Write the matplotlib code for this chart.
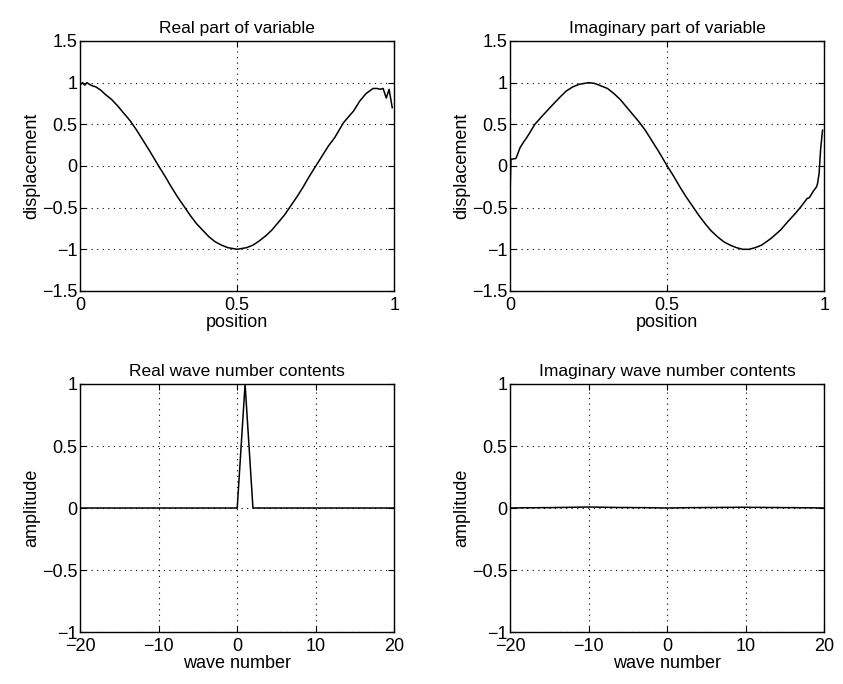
import matplotlib
matplotlib.use("Agg")
import matplotlib.pyplot as plt
import numpy as np

plt.rcParams['font.family'] = ['Liberation Sans', 'DejaVu Sans']
plt.rcParams['font.size'] = 13

# real part of variable
pos_re = [0.0, 0.008, 0.015, 0.022, 0.03, 0.04, 0.05, 0.066, 0.08, 0.10, 0.12, 0.14,
          0.16, 0.18, 0.20, 0.22, 0.25, 0.27, 0.29, 0.31, 0.33, 0.35, 0.37, 0.39,
          0.41, 0.43, 0.45, 0.47, 0.50, 0.53, 0.55, 0.57, 0.59, 0.61, 0.63, 0.65,
          0.67, 0.69, 0.71, 0.73, 0.75, 0.77, 0.79, 0.81, 0.838, 0.87, 0.89, 0.91,
          0.932, 0.945, 0.955, 0.964, 0.974, 0.983, 0.993]
real_part = [0.97, 1.0, 0.97, 1.0, 0.98, 0.96, 0.95, 0.91, 0.86, 0.80, 0.72, 0.63,
             0.54, 0.43, 0.31, 0.19, 0.0, -0.12, -0.25, -0.37, -0.48, -0.59, -0.69, -0.77,
             -0.85, -0.91, -0.95, -0.98, -1.0, -0.98, -0.95, -0.90, -0.84, -0.77, -0.68, -0.59,
             -0.48, -0.37, -0.25, -0.12, 0.0, 0.12, 0.24, 0.34, 0.52, 0.66, 0.78, 0.87,
             0.93, 0.93, 0.92, 0.93, 0.815, 0.92, 0.70]

# imaginary part of variable
pos_im = [0.0, 0.003, 0.019, 0.025, 0.032, 0.042, 0.053, 0.063, 0.079, 0.105, 0.137,
          0.16, 0.179, 0.20, 0.22, 0.25, 0.27, 0.29, 0.31, 0.33, 0.35, 0.37, 0.39,
          0.41, 0.43, 0.45, 0.47, 0.50, 0.52, 0.54, 0.56, 0.58, 0.60, 0.62, 0.64,
          0.66, 0.68, 0.70, 0.72, 0.74, 0.76, 0.78, 0.80, 0.83, 0.86, 0.883, 0.905,
          0.925, 0.945, 0.952, 0.965, 0.975, 0.978, 0.983, 0.988, 0.994]
imag_part = [-0.35, 0.08, 0.09, 0.15, 0.22, 0.28, 0.34, 0.40, 0.50, 0.61, 0.74,
             0.83, 0.90, 0.95, 0.98, 1.0, 0.99, 0.96, 0.93, 0.87, 0.80, 0.71, 0.62,
             0.53, 0.43, 0.31, 0.19, 0.0, -0.12, -0.25, -0.37, -0.48, -0.59, -0.69, -0.78,
             -0.85, -0.91, -0.95, -0.98, -1.0, -1.0, -0.98, -0.95, -0.87, -0.77, -0.67, -0.58,
             -0.49, -0.39, -0.38, -0.30, -0.25, -0.21, -0.09, 0.21, 0.43]

# wave number contents
wave_num = list(range(-20, 21))
real_amp = [0.0] * 20 + [0.0, 1.0] + [0.0] * 19
imag_amp = [0.0, 0.001, 0.002, 0.002, 0.003, 0.003, 0.004, 0.005, 0.006, 0.007,
            0.008, 0.007, 0.006, 0.005, 0.004, 0.004, 0.003, 0.003, 0.002, 0.001,
            0.0, 0.001, 0.002, 0.003, 0.003, 0.004, 0.004, 0.005, 0.005, 0.006,
            0.006, 0.005, 0.005, 0.004, 0.004, 0.003, 0.003, 0.002, 0.002, 0.001, 0.0]

fig = plt.figure(figsize=(8.43, 6.84), dpi=100)
W = 0.373
ax1 = fig.add_axes([0.0949, 0.5746, W, 0.3655])
ax2 = fig.add_axes([0.605, 0.5746, W, 0.3655])
ax3 = fig.add_axes([0.0949, 0.076, W, 0.3626])
ax4 = fig.add_axes([0.605, 0.076, W, 0.3626])


def style(ax, xt, yt, xlab, ylab, title):
    ax.set_xticks(xt)
    ax.set_yticks(yt)
    ax.set_xlim(xt[0], xt[-1])
    ax.set_ylim(yt[0], yt[-1])
    ax.set_xticklabels([f"{v:g}".replace('-', '\u2212') for v in xt])
    ax.set_yticklabels([f"{v:g}".replace('-', '\u2212') for v in yt])
    ax.grid(True, linestyle=(0, (1, 4)), color='black', linewidth=0.8)
    ax.tick_params(direction='in', top=True, right=True, length=4, width=0.8,
                   labelsize=13, pad=2)
    ax.tick_params(axis='x', pad=4)
    for s in ax.spines.values():
        s.set_linewidth(1.0)
    ax.set_xlabel(xlab, fontsize=13, labelpad=0)
    ax.set_ylabel(ylab, fontsize=13, labelpad=1)
    ax.set_title(title, fontsize=12.5, pad=6)


ax1.plot(pos_re, real_part, color='black', lw=1.1)
style(ax1, [0, 0.5, 1], [-1.5, -1, -0.5, 0, 0.5, 1, 1.5],
      'position', 'displacement', 'Real part of variable')

ax2.plot(pos_im, imag_part, color='black', lw=1.1)
style(ax2, [0, 0.5, 1], [-1.5, -1, -0.5, 0, 0.5, 1, 1.5],
      'position', 'displacement', 'Imaginary part of variable')

ax3.plot(wave_num, real_amp, color='black', lw=1.1)
style(ax3, [-20, -10, 0, 10, 20], [-1, -0.5, 0, 0.5, 1],
      'wave number', 'amplitude', 'Real wave number contents')

ax4.plot(wave_num, imag_amp, color='black', lw=1.1)
style(ax4, [-20, -10, 0, 10, 20], [-1, -0.5, 0, 0.5, 1],
      'wave number', 'amplitude', 'Imaginary wave number contents')

fig.savefig('out.png', dpi=100)
